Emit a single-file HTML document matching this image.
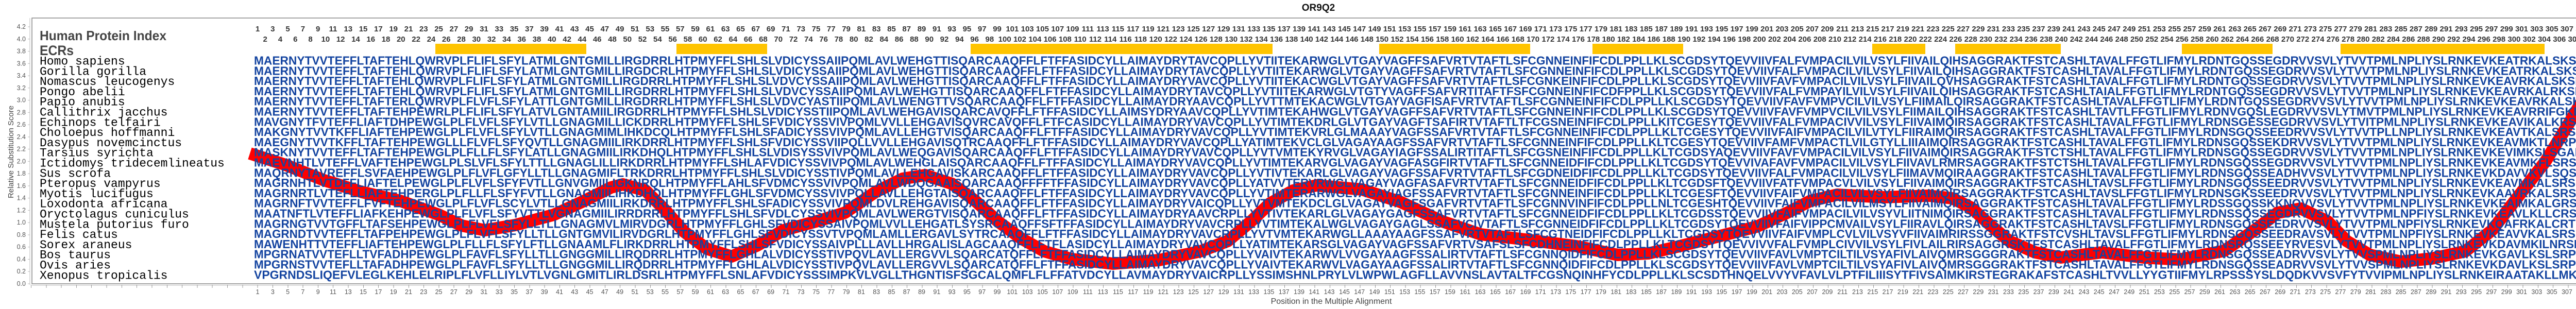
<!DOCTYPE html>
<html><head><meta charset="utf-8">
<style>
html,body{margin:0;padding:0;background:#fff;}
#wrap{position:relative;width:5118px;height:600px;overflow:hidden;background:#fff;}
svg{position:absolute;left:0;top:0;}
.row{position:absolute;display:flex;white-space:nowrap;}
.row i{font-style:normal;display:block;width:29.312px;flex:0 0 29.312px;text-align:center;}
.top{font-family:"Liberation Sans",Arial,sans-serif;font-weight:bold;font-size:15px;color:#333;line-height:18px;}
.bot{font-family:"Liberation Sans",Arial,sans-serif;font-size:12.5px;color:#555;line-height:16px;}
#ticks{position:absolute;left:60.344px;top:553px;width:5046px;height:6px;background:repeating-linear-gradient(to right,#999 0,#999 1px,transparent 1px,transparent 29.312px);}
</style></head><body><div id="wrap">
<svg width="5118" height="600" viewBox="0 0 5118 600" xmlns="http://www.w3.org/2000/svg">
<text x="2559" y="21" text-anchor="middle" font-family="Liberation Sans, Arial, sans-serif" font-weight="bold" font-size="19" fill="#111">OR9Q2</text>
<rect x="62" y="35" width="5044" height="516" fill="none" stroke="#888" stroke-width="1.5"/>
<line x1="58" y1="35" x2="58" y2="553" stroke="#bbb" stroke-width="1"/>
<line x1="62" y1="554" x2="5106" y2="554" stroke="#bbb" stroke-width="1"/>
<g font-family="Liberation Sans, Arial, sans-serif" font-size="12.5" fill="#555" text-anchor="end">
<text x="50" y="555">0.0</text><text x="50" y="531.2">0.2</text><text x="50" y="507.5">0.4</text><text x="50" y="483.7">0.6</text><text x="50" y="460">0.8</text><text x="50" y="436.2">1.0</text><text x="50" y="412.4">1.2</text><text x="50" y="388.7">1.4</text><text x="50" y="364.9">1.6</text><text x="50" y="341.2">1.8</text><text x="50" y="317.4">2.0</text><text x="50" y="293.6">2.2</text><text x="50" y="269.9">2.4</text><text x="50" y="246.1">2.6</text><text x="50" y="222.4">2.8</text><text x="50" y="198.6">3.0</text><text x="50" y="174.8">3.2</text><text x="50" y="151.1">3.4</text><text x="50" y="127.3">3.6</text><text x="50" y="103.6">3.8</text><text x="50" y="79.8">4.0</text><text x="50" y="56">4.2</text>
</g>
<g stroke="#bbb" stroke-width="1">
<line x1="54" y1="551" x2="58" y2="551"/><line x1="54" y1="527.2" x2="58" y2="527.2"/><line x1="54" y1="503.5" x2="58" y2="503.5"/><line x1="54" y1="479.7" x2="58" y2="479.7"/><line x1="54" y1="456" x2="58" y2="456"/><line x1="54" y1="432.2" x2="58" y2="432.2"/><line x1="54" y1="408.4" x2="58" y2="408.4"/><line x1="54" y1="384.7" x2="58" y2="384.7"/><line x1="54" y1="360.9" x2="58" y2="360.9"/><line x1="54" y1="337.2" x2="58" y2="337.2"/><line x1="54" y1="313.4" x2="58" y2="313.4"/><line x1="54" y1="289.6" x2="58" y2="289.6"/><line x1="54" y1="265.9" x2="58" y2="265.9"/><line x1="54" y1="242.1" x2="58" y2="242.1"/><line x1="54" y1="218.4" x2="58" y2="218.4"/><line x1="54" y1="194.6" x2="58" y2="194.6"/><line x1="54" y1="170.8" x2="58" y2="170.8"/><line x1="54" y1="147.1" x2="58" y2="147.1"/><line x1="54" y1="123.3" x2="58" y2="123.3"/><line x1="54" y1="99.6" x2="58" y2="99.6"/><line x1="54" y1="75.8" x2="58" y2="75.8"/><line x1="54" y1="52" x2="58" y2="52"/>
</g>
<text transform="translate(26,295) rotate(-90)" text-anchor="middle" font-family="Liberation Sans, Arial, sans-serif" font-size="15" fill="#444">Relative Substitution Score</text>
<text x="2584" y="590" text-anchor="middle" font-family="Liberation Sans, Arial, sans-serif" font-size="16" fill="#444">Position in the Multiple Alignment</text>
<g fill="#FFC400">
<rect x="845" y="85" width="293" height="20"/>
<rect x="1313" y="85" width="176" height="20"/>
<rect x="1884" y="85" width="586" height="20"/>
<rect x="2677" y="85" width="293" height="20"/>
<rect x="3091" y="85" width="176" height="20"/>
<rect x="3634" y="85" width="103" height="20"/>
<rect x="3795" y="85" width="205" height="20"/>
<rect x="4235" y="85" width="176" height="20"/>
<rect x="4543" y="85" width="396" height="20"/>
</g>
<polyline fill="none" stroke="#ff0000" stroke-width="24" stroke-linejoin="round" stroke-linecap="butt" points="485,298 554,320 629,350 703,373 777,390 852,417 896,438 941,447 1000,437 1075,417 1134,390 1186,364 1209,358 1253,370 1290,407 1328,450 1372,483 1420,498 1469,477 1521,447 1595,427 1640,413 1699,373 1752,347 1796,340 1848,357 1893,390 1937,430 1982,463 2027,488 2080,503 2160,512 2250,505 2330,488 2383,468 2428,430 2465,395 2510,370 2555,360 2644,368 2718,392 2800,430 2874,455 2960,465 3060,478 3140,495 3200,492 3260,478 3320,463 3410,440 3469,413 3514,390 3566,378 3655,383 3744,380 3789,385 3826,403 3863,437 3900,468 3950,490 4000,500 4080,490 4160,500 4230,504 4317,487 4376,447 4421,413 4466,405 4518,430 4555,468 4600,495 4660,508 4720,502 4785,488 4837,447 4889,380 4941,313 4986,240 5030,165 5050,122 5105,98"/>
<text x="77" y="78" font-family="Liberation Sans, Arial, sans-serif" font-weight="bold" font-size="26" fill="#444" textLength="246" lengthAdjust="spacingAndGlyphs">Human Protein Index</text>
<text x="77" y="107" font-family="Liberation Sans, Arial, sans-serif" font-weight="bold" font-size="27" fill="#444" textLength="66" lengthAdjust="spacingAndGlyphs">ECRs</text>
<g font-family="Liberation Mono, DejaVu Sans Mono, monospace" font-size="23" fill="#000">
<text x="77" y="125.5">Homo sapiens</text>
<text x="77" y="145.3">Gorilla gorilla</text>
<text x="77" y="165.1">Nomascus leucogenys</text>
<text x="77" y="184.9">Pongo abelii</text>
<text x="77" y="204.7">Papio anubis</text>
<text x="77" y="224.5">Callithrix jacchus</text>
<text x="77" y="244.3">Echinops telfairi</text>
<text x="77" y="264.1">Choloepus hoffmanni</text>
<text x="77" y="283.9">Dasypus novemcinctus</text>
<text x="77" y="303.7">Tarsius syrichta</text>
<text x="77" y="323.5">Ictidomys tridecemlineatus</text>
<text x="77" y="343.3">Sus scrofa</text>
<text x="77" y="363.1">Pteropus vampyrus</text>
<text x="77" y="382.9">Myotis lucifugus</text>
<text x="77" y="402.7">Loxodonta africana</text>
<text x="77" y="422.5">Oryctolagus cuniculus</text>
<text x="77" y="442.3">Mustela putorius furo</text>
<text x="77" y="462.1">Felis catus</text>
<text x="77" y="481.9">Sorex araneus</text>
<text x="77" y="501.7">Bos taurus</text>
<text x="77" y="521.5">Ovis aries</text>
<text x="77" y="541.3">Xenopus tropicalis</text>
</g>
<g font-family="Liberation Sans, Arial, sans-serif" font-weight="bold" font-size="23" fill="#1444a0">
<text x="493" y="125.5" textLength="4602" lengthAdjust="spacingAndGlyphs">MAERNYTVVTEFFLTAFTEHLQWRVPLFLIFLSFYLATMLGNTGMILLIRGDRRLHTPMYFFLSHLSLVDICYSSAIIPQMLAVLWEHGTTISQARCAAQFFLFTFFASIDCYLLAIMAYDRYTAVCQPLLYVTIITEKARWGLVTGAYVAGFFSAFVRTVTAFTLSFCGNNEINFIFCDLPPLLKLSCGDSYTQEVVIIVFALFVMPACILVILVSYLFIIVAILQIHSAGGRAKTFSTCASHLTAVALFFGTLIFMYLRDNTGQSSEGDRVVSVLYTVVTPMLNPLIYSLRNKEVKEATRKALSKSKPARRP</text>
<text x="493" y="145.3" textLength="4602" lengthAdjust="spacingAndGlyphs">MAERNYTVVTEFFLTAFTEHLQWRVPLFLIFLSFYLATMLGNTGMILLIRGDCRLHTPMYFFLSHLSLVDICYSSAIIPQMLAVLWEHGTTISQARCAAQFFLFTFFASIDCYLLAIMAYDRYTAVCQPLLYVTIITEKARWGLVTGAYVAGFFSAFVRTVTAFTLSFCGNNEINFIFCDLPPLLKLSCGDSYTQEVVIIVFALFVMPACILVILVSYLFIIVAILQIHSAGGRAKTFSTCASHLTAVALFFGTLIFMYLRDNTGQSSEGDRVVSVLYTVVTPMLNPLIYSLRNKEVKEATRKALSKSKAARIP</text>
<text x="493" y="165.1" textLength="4602" lengthAdjust="spacingAndGlyphs">MAERNYTVVTEFFLTAFTEHLQWRVPLFLIFLSFYLATMLGNTGMILLIRGDRRLHTPMYFFLSHLSLVDVCYSSAIIPQMLAVLWEHGTTISQARCAAQFFLFTFFASIDCYLLAIMAYDRYVAVCQPLLYVTIITEKACWGLVTGAYVAGFFSAFVRTVTAFTLSFCGNKEINFIFCDLPPLLKLSCGDSYTQEVVIIVFAVFVMPACILVILVSYLFIIVAILQVHSAGGRAKTFSTCASHLTAVALFFGTLIFMYLRDNTGQSSEGDRVVSVLYTVVTPMLNPLIYSLRNKEVKEAVRKALSKSKAARRP</text>
<text x="493" y="184.9" textLength="4602" lengthAdjust="spacingAndGlyphs">MAERNYTVVTEFFLTAFTEHLQWRVPLFLIFLSFYLATMLGNTGMILLIRGDRRLHTPMYFFLSHLSLVDVCYSSAIIPQMLAVLWEHGTTISQARCAAQFFLFTFFASIDCYLLAIMAYDRYTAVCQPLLYVTIITEKARWGLVTGTYVAGFFSAFVRTITAFTFSFCGNNEINFIFCDFPPLLKLSCGDSYTQEVVIIVFALFVMPAYILVILVSYLFIIVAILQIHSAGGRAKTFSTCASHLTAIALFFGTLIFMYLRDNTGQSSEGDRVVSVLYTVVTPMLNPLIYSLRNKEVKEAVRKALRKSKAARRP</text>
<text x="493" y="204.7" textLength="4602" lengthAdjust="spacingAndGlyphs">MAERNYTVVTEFFLTAFTERLQWRVPLFLVFLSFYLATTLGNTGMILLIRGDRRLHTPMYFFLSHLSLVDVCYASTIIPQMLAVLWENGTTVSQARCAAQFFLFTFFASIDCYLLAIMAYDRYAAVCQPLLYVTTMTEKACWGLVTGAYVAGFISAFVRTVTAFTLSFCGNNEINFIFCDLPPLLKLSCGDSYTQEVVIIVFAVFVMPVCILVILVSYLFIIMAILQIRSAGGRAKTFSTCASHLTAVALFFGTLIFMYLRDNTGQSSEGDRVVSVLYTVVTPMLNPLIYSLRNKEVKEAVRKALSKSKAS---</text>
<text x="493" y="224.5" textLength="4602" lengthAdjust="spacingAndGlyphs">MAERNYTVVTEFFLTAFTEHPEWRLPLFLIFLSFYLATVLGNTAMIILIRGDRRLHTPMYFFLSHLSLVDICYSSTIIPQMLAVLWEHGAVISQARCAVQFFLFTFFASIDCYLLAIMSYDRYAAVCQPLLYVTIMTEKAHWGLVTGAYVAGFFSAFVRTVTAFTLSFCGNNEINFIFCDLPPLLKLSCGDSYTQEVVIIVFAVFVMPVCILVILVSYLFIIMAILQIHSAGGRAKTFSTCASHLTAVTLFFGTLIFMYLRDNVGQSLEGDRVVSVLYTMVTPMLNPLIYSLRNKEVKEAVRRIFGKLQSSLQI</text>
<text x="493" y="244.3" textLength="4602" lengthAdjust="spacingAndGlyphs">MAVGNYTFVTEFFLIAFTDHPEWGLPLFLVFLSFYLVTLLGNAGMILLICKDRRLHTPMYFFLSHLSFVDICYSSVIVPQMLVVLLEHGAVISQVRCAVQFFLFTFCASIDCYLLAIMAYDRYVAVCQPLLYVTIMTEKDRLGLVTGAYVAGFTSAFIRTVTAFTLTFCGSNEINFIFCDLPPLLKITCGESYTQEVVIIVFALFVMPACIVVILVSYLFIIVAIMQIRSAGGRAKTFSTCASHLTAVALFFGTLIFMYLRDNSGESSEGDRVVSVLYTVITPMLNPLIYSLRNKEVKEAVIKALKRSNVARRP</text>
<text x="493" y="264.1" textLength="4602" lengthAdjust="spacingAndGlyphs">MAKGNYTVVTKFFLIAFTEHPEWGLPLFLVFLSFYLVTLLGNAGMIMLIHKDCQLHTPMYFFLSHLSFADICYSSVIVPQMLAVLLEHGTVISQARCAAQFFLFTFFASIDCYLLAIMAYDRYVAVCQPLLYVTIMTEKVRLGLMAAAYVAGFSSAFVRTVTAFTLSFCGNNEINFIFCDLPPLLKLTCGESYTQEVVIIVFAIFVMPACILVILVTYLFIIRAIMQIRSAGGRAKTFSTCASHLTAVALFFGTLIFMYLRDNSGQSSEEDRVVSVLYTVVTPLLNPLIYSLRNKEVKEAVTKALSRSKASRRP</text>
<text x="493" y="283.9" textLength="4602" lengthAdjust="spacingAndGlyphs">MAEGNYTVVTKFFLTAFTEHPEWGLLLFLVFLSFYQVTLLGNAGMIILIRKDRRLHTPMYFFLSHLSFVDICYSSVIIPQLLVVLLEHGAVISQTRCAAQFFLFTFFASIDCYLLAIMAYDRYVAVCQPLLYATIMTEKVCLGLVAGAYAAGFSSAFVRTVTAFTLSFCGNNEINFIFCDLPPLLKLTCGESYTQEVVIIVFAMFVMPACTLVILGTYLLIIIAIMQIRSAGGRAKTFSTCASHLTAVALFFGTLIFMYLRDNSGQSSEKDRVVSVLYTVVTPMLNPLIYSLRNKEVKEAVMKTLNRPKVSRKS</text>
<text x="493" y="303.7" textLength="4602" lengthAdjust="spacingAndGlyphs">MASKNYTVVTEFFLTAFTEHPEWGLPLFLLFLSFYLATLLGNAGMIILIRKDHQLHTPMYFFLSHLSLVDISYSSVIVPQMLAVLWEQGAVISQARCAAQFFLFTFFASIDCYLLAIMAYDRYVAVCQPLLYVTVMTEKYRVGLVAGAYIAGFSSALIRTITAFTLSFCGSNEINFIFCDLPPLLKLTCGDSYAQEVVIIVFAVFVMPACILVILVSYLFIIVAIMQIRSAGGRAKTFSTCTSHLTAVALFFGTLIFMYLRDNSGQSSEGDRVVSVLYTVVTPMLNPLIYSLRNKEVKEVIMKSLSGAKASGRP</text>
<text x="493" y="323.5" textLength="4602" lengthAdjust="spacingAndGlyphs">MAEVNHTLVTEFFLVAFTEHPEWGLPLSLVFLSFYLTTLLGNAGLILLIRKDRRLHTPMYFFLSHLAFVDICYSSVIVPQMLAVLWEHGLAISQARCAAQFFLFTFFASIDCYLLAIMAYDRYVAVCQPLLYVTIMTEKARVGLVAGAYVAGFASGFIRTVTAFTLSFCGNNEIDFIFCDLPPLLKLTCGDSYTQEVVIVAFAVFVMPACILVILVSYLFIIVAVLRMRSAGGRAKTFSTCTSHLTAVALFFGTLIFMYLRDNSGQSSEGDRVVSVLYTVVTPMLNPLIYSLRNKEVKEAVMKFLSRSKVSRRP</text>
<text x="493" y="343.3" textLength="4602" lengthAdjust="spacingAndGlyphs">MAQRNYTAVREFFLSVFAEHPEWGLPLFLVFLGFYLLTLLGNAGMIFLTRKDRRLHTPMYFFLSHLSLVDICYSSTIVPQMLAVLLEHGAVISKARCAAQFFLFTFFASIDCYLLAIMAYDRYVAVCQPLLYVTIVTEKARLGLVAGAYVAGFSSAFVRTVTAFTLSFCGDNEIDFIFCDLPPLLKLTCGDSYTQEVVIIVFALFVMPACILVILVSYLFIIMAVMQIRAAGGRAKTFSTCASHLTAVALFFGTLIFMYLRDNSGQSSEADHVVSVLYTVVTPMLNPLIYSLRNKEVKDAVVKVLSQSKPSGRT</text>
<text x="493" y="363.1" textLength="4602" lengthAdjust="spacingAndGlyphs">MAGRNHTLVTDFFLIAFTELPEWGLPLFLVFLSFYFVTLLGNVGMIILIGKNRQLHTPMYFFLAHLSFVDMCYSSVIVPQMLAVLWDQGAAISQARCAAQFFFFTFFASIDCYLLAIMAYDRYVAVCQPLLYATVVTERVRWGLVAGAYVAGFASAFVRTVTAFTLSFCGNNEIDFIFCDLPPLLKLTCGDSFTQEVVIIVFATFVMPACVLVILVSYLFIIVAIMQIRSAGGRAKTFSTCASHLTAVSLFFGTLIFMYLRDNSGQSSEEDRVVSVLYTVVTPMLNPLIYSLRNKEVKEAVMKALSRSRASGRP</text>
<text x="493" y="382.9" textLength="4602" lengthAdjust="spacingAndGlyphs">MAGRNRTLVTEFLLIAFTEHPERGLPLFLLFLSFYFVTLLGNAGMIILIHKDHQLHTPMYFFLGHLSFVDMCYSSVIVPQLLAVLLEHGTAISQARCAAQFFLFTFFASIDCYLLAIMAYDRYVAVCQPLLYVTIMTERARWGLVAGAYIAGFSSAFVRTVTAFTLSFCGNNEINFIFCDLPPLLKLTCGESFTQEVVIIVFAIFVMPACILVILVSYLFIIVAIMQIRSAGGRAKTFSTCASHLTAVSLFFGTLIFMYLRDNSGKSSEEDRVVSVLYTVVTPMLNPLIYSLRNKEVKAAVRKALSRSKASALC</text>
<text x="493" y="402.7" textLength="4602" lengthAdjust="spacingAndGlyphs">MAGRNFTVVTEFFLFVFTEHPEWGLPLFLVFLSCYLVTLLGNAGMIILIRKDRRLHTPMYFFLSHLSFADICYSSVIVPQMLDVLREHGAVISQARCAAQFFLFTFFASIDCYLLAIMAYDRYVAICQPLLYVTVMTEKDCLGLVAGAYVAGFSGAFVRTVTAFTLSFCGNNVINFIFCDLPPLLNLTCGESHTQEVVIIVFAIFVMPACILVILMSYLFIIVAIMQIRSAGGRAKTFSTCASHLTAVALFFGTLIFMYLRDSSGQSSKKNQVVSVLYTVVTPMLNPLIYSLRNKEVKEAIMKALGRSKYFGEP</text>
<text x="493" y="422.5" textLength="4602" lengthAdjust="spacingAndGlyphs">MAATNFTLVTEFFLIAFKEHPEWGLPLFLVFLSFYVTTLVGNAGMIILIRRDRRLHTPMYFFLSHLSFVDLCYSSVIVPQMLAVLWERGTVISQARCAAQFFLFTFFASIDCYLLAIMAYDRYAAVCRPLLYVTIVTEKARLGLVAGAYGAGFSSAFVRTVTAFTLSFCGNNEIDFIFCDLPPLLKLTCGDSSTQEVVIIVFAIFVMPACILVILVSYVLIITNIMQIRSAGGRAKTFSTCASHLTAVALFFGTLIFMYLRDNSSQSSEGDRVVSVLYTVVTPMLNPFIYSLRNKEVKEAVLKLLCRSKPSGTP</text>
<text x="493" y="442.3" textLength="4602" lengthAdjust="spacingAndGlyphs">MAGRNGTVVTGFFLTAFSEHPEWGLPLFLVFLSFYLLTLLGNAGMVLMIRVDGRLHTPMYFFLGHLSFVDICYSSAIVPQMLVVLLEHGATLSYSRCAAQFFSFTFFASIDCYLLAIMAYDRYVAVCRPLLYVTIMTEKALWGLVAGAYGAGLSSAFVCIVTAFTLSFCGNNEIDFIFCDLPPLLKLTCGDSYTQEVVIIVFAIFVIPPCMVAILVSYLFIIRAVLQIRSAGGRAKTFSTCASHLTAVSLFFGTLIFMYLRDNSGQSSEEDRVVSVLYTVVTPMLNPFIYSLRNKEVKQAFRKALCRTKASGKP</text>
<text x="493" y="462.1" textLength="4602" lengthAdjust="spacingAndGlyphs">MAGRNDTVVTEFFLTAFPEHPEWGLPLFLVFLSFYLLTLLGNTGMVILIRVDGRLHTPMYFFLGHLSFVDICYSSVTVPQMLAMLLERGAVLSYTRCAAQFFLFTFFASIDCYLLAIMAYDRYVAVCRPLLYVTVMTEKARWGLLAAAYAAGFSSAFVRTVTAFTLSFCGTNEIDFIFCDLPPLLKLTCGDSYTQEVVIIVFAIFVMPLCVLVILVSYVFIIVAIMRIRSSGGRAKTFSTCVSHLTAVSLFFGTLIFMYLRDNSGQSSEEDRAVSVLYTVVTPMLNPFIYSLRNKEVKEAVVKALSRSKSRGRP</text>
<text x="493" y="481.9" textLength="4602" lengthAdjust="spacingAndGlyphs">MAWENHTTVTEFFLIAFTEHPEWGLPLFLLFLSFYLFTLLGNAAMLFLIRKDRRLHTPMYFFLSHLSFVDICYSSAIVPLLLAVLLHRGALISLAGCAAQFFLFTFLASIDCYLLAIMAYDRYVAVCQPLLYATIMTEKARSGLVAGAYVAGFSSAFVRTVSAFSLSFCDHNEINFIFCDLPPLLKLTCGDSYTQEVVIVVFALFVMPLCIVVILVSYLFIVLAILRIRSAGGRSKTFSTCASHLTAVALFFGTLIFMYLRDNSRQSSEEYRVESVLYTVVTPMLNPLIYSLRNKEVKDAVMKILNRSKTMRMS</text>
<text x="493" y="501.7" textLength="4602" lengthAdjust="spacingAndGlyphs">MPGRNATVVTEFLLTVFADHPEWGLPLFAVFLSFYLLTLLGNGGMILLIRQDRRLHTPMYFFLGHLALVDICYSSTIVPQVLAVLLERGVVLSQARCATQFFLFTFFASIDCYLLAIMAYDRYVAVCQPLLYVAIVTEKARWVLVVGAYAAGFSSALIRTVTAFTLSFCGNNQIDFIFCDLPPLLKLSCGDSYTQEVVIIVFAVLVMPTCILTILVSYAFIVLAIVQMRSGGGRAKTFSTCASHLTAVALFFGTLIFMYLRDNSGQSSEADRVVSVLYTVVSPMLNPLIYSLRNKEVKGAVLKSLSRPKVSGRS</text>
<text x="493" y="521.5" textLength="4602" lengthAdjust="spacingAndGlyphs">MPGRNSTVVTEFLLTAFADHPEWGLPLFAVFLSFYLLTLLGNGGMILLIRQDRRLHTPMYFFLGHLALVDICYSSTIVPQVLAVLLERGVVLSQARCATQFFLFTFFASIDCYLLAIMAYDRYVAVCQPLLYVAIVTEKARWVLVAGAYAAGFSSALIRTVTAFTLSFCGNNQIDFIFCDLPPLLKLSCGDSYTQEVVIIVFAVLVMPTCILTILVSYAFIVLAIVQMRSGGGRAKTFSTCASHLTAVALFFGTLIFMYLRDNSGQSSEADRVVSVLYTVVSPMLNPLIYSLRNKEVKDAVLKSLSRPKVSGRX</text>
<text x="493" y="541.3" textLength="4602" lengthAdjust="spacingAndGlyphs">VPGRNDSLIQEFVLEGLKEHLELRIPLFLVFLLIYLVTLVGNLGMITLIRLDSRLHTPMYFFLSNLAFVDICYSSSIMPKVLVGLLTHGNTISFSGCALQMFLFLFFATVDCYLLAVMAYDRYVAICRPLLYSSIMSHNLPRYLVLWPWLAGFLLAVVNSLAVTALTFCGSNQINHFYCDLPPLLKLSCSDTHNQELVVYVFAVLVLPTFILIIISYTFIVSAIMKIRSTEGRAKAFSTCASHLTVVLLYYGTIIFMYLRPSSSYSLDQDKVVSVFYTVVIPMLNPLIYSLRNKEIRAATAKLLMKATYRK--</text>
</g>
</svg>
<div id="ticks"></div>
<div class="row top" style="left:485.344px;top:48px;"><i>1</i><i>3</i><i>5</i><i>7</i><i>9</i><i>11</i><i>13</i><i>15</i><i>17</i><i>19</i><i>21</i><i>23</i><i>25</i><i>27</i><i>29</i><i>31</i><i>33</i><i>35</i><i>37</i><i>39</i><i>41</i><i>43</i><i>45</i><i>47</i><i>49</i><i>51</i><i>53</i><i>55</i><i>57</i><i>59</i><i>61</i><i>63</i><i>65</i><i>67</i><i>69</i><i>71</i><i>73</i><i>75</i><i>77</i><i>79</i><i>81</i><i>83</i><i>85</i><i>87</i><i>89</i><i>91</i><i>93</i><i>95</i><i>97</i><i>99</i><i>101</i><i>103</i><i>105</i><i>107</i><i>109</i><i>111</i><i>113</i><i>115</i><i>117</i><i>119</i><i>121</i><i>123</i><i>125</i><i>127</i><i>129</i><i>131</i><i>133</i><i>135</i><i>137</i><i>139</i><i>141</i><i>143</i><i>145</i><i>147</i><i>149</i><i>151</i><i>153</i><i>155</i><i>157</i><i>159</i><i>161</i><i>163</i><i>165</i><i>167</i><i>169</i><i>171</i><i>173</i><i>175</i><i>177</i><i>179</i><i>181</i><i>183</i><i>185</i><i>187</i><i>189</i><i>191</i><i>193</i><i>195</i><i>197</i><i>199</i><i>201</i><i>203</i><i>205</i><i>207</i><i>209</i><i>211</i><i>213</i><i>215</i><i>217</i><i>219</i><i>221</i><i>223</i><i>225</i><i>227</i><i>229</i><i>231</i><i>233</i><i>235</i><i>237</i><i>239</i><i>241</i><i>243</i><i>245</i><i>247</i><i>249</i><i>251</i><i>253</i><i>255</i><i>257</i><i>259</i><i>261</i><i>263</i><i>265</i><i>267</i><i>269</i><i>271</i><i>273</i><i>275</i><i>277</i><i>279</i><i>281</i><i>283</i><i>285</i><i>287</i><i>289</i><i>291</i><i>293</i><i>295</i><i>297</i><i>299</i><i>301</i><i>303</i><i>305</i><i>307</i><i>309</i><i>311</i><i>313</i></div>
<div class="row top" style="left:500px;top:68px;"><i>2</i><i>4</i><i>6</i><i>8</i><i>10</i><i>12</i><i>14</i><i>16</i><i>18</i><i>20</i><i>22</i><i>24</i><i>26</i><i>28</i><i>30</i><i>32</i><i>34</i><i>36</i><i>38</i><i>40</i><i>42</i><i>44</i><i>46</i><i>48</i><i>50</i><i>52</i><i>54</i><i>56</i><i>58</i><i>60</i><i>62</i><i>64</i><i>66</i><i>68</i><i>70</i><i>72</i><i>74</i><i>76</i><i>78</i><i>80</i><i>82</i><i>84</i><i>86</i><i>88</i><i>90</i><i>92</i><i>94</i><i>96</i><i>98</i><i>100</i><i>102</i><i>104</i><i>106</i><i>108</i><i>110</i><i>112</i><i>114</i><i>116</i><i>118</i><i>120</i><i>122</i><i>124</i><i>126</i><i>128</i><i>130</i><i>132</i><i>134</i><i>136</i><i>138</i><i>140</i><i>142</i><i>144</i><i>146</i><i>148</i><i>150</i><i>152</i><i>154</i><i>156</i><i>158</i><i>160</i><i>162</i><i>164</i><i>166</i><i>168</i><i>170</i><i>172</i><i>174</i><i>176</i><i>178</i><i>180</i><i>182</i><i>184</i><i>186</i><i>188</i><i>190</i><i>192</i><i>194</i><i>196</i><i>198</i><i>200</i><i>202</i><i>204</i><i>206</i><i>208</i><i>210</i><i>212</i><i>214</i><i>216</i><i>218</i><i>220</i><i>222</i><i>224</i><i>226</i><i>228</i><i>230</i><i>232</i><i>234</i><i>236</i><i>238</i><i>240</i><i>242</i><i>244</i><i>246</i><i>248</i><i>250</i><i>252</i><i>254</i><i>256</i><i>258</i><i>260</i><i>262</i><i>264</i><i>266</i><i>268</i><i>270</i><i>272</i><i>274</i><i>276</i><i>278</i><i>280</i><i>282</i><i>284</i><i>286</i><i>288</i><i>290</i><i>292</i><i>294</i><i>296</i><i>298</i><i>300</i><i>302</i><i>304</i><i>306</i><i>308</i><i>310</i><i>312</i><i>314</i></div>
<div class="row bot" style="left:485.344px;top:559px;"><i>1</i><i>3</i><i>5</i><i>7</i><i>9</i><i>11</i><i>13</i><i>15</i><i>17</i><i>19</i><i>21</i><i>23</i><i>25</i><i>27</i><i>29</i><i>31</i><i>33</i><i>35</i><i>37</i><i>39</i><i>41</i><i>43</i><i>45</i><i>47</i><i>49</i><i>51</i><i>53</i><i>55</i><i>57</i><i>59</i><i>61</i><i>63</i><i>65</i><i>67</i><i>69</i><i>71</i><i>73</i><i>75</i><i>77</i><i>79</i><i>81</i><i>83</i><i>85</i><i>87</i><i>89</i><i>91</i><i>93</i><i>95</i><i>97</i><i>99</i><i>101</i><i>103</i><i>105</i><i>107</i><i>109</i><i>111</i><i>113</i><i>115</i><i>117</i><i>119</i><i>121</i><i>123</i><i>125</i><i>127</i><i>129</i><i>131</i><i>133</i><i>135</i><i>137</i><i>139</i><i>141</i><i>143</i><i>145</i><i>147</i><i>149</i><i>151</i><i>153</i><i>155</i><i>157</i><i>159</i><i>161</i><i>163</i><i>165</i><i>167</i><i>169</i><i>171</i><i>173</i><i>175</i><i>177</i><i>179</i><i>181</i><i>183</i><i>185</i><i>187</i><i>189</i><i>191</i><i>193</i><i>195</i><i>197</i><i>199</i><i>201</i><i>203</i><i>205</i><i>207</i><i>209</i><i>211</i><i>213</i><i>215</i><i>217</i><i>219</i><i>221</i><i>223</i><i>225</i><i>227</i><i>229</i><i>231</i><i>233</i><i>235</i><i>237</i><i>239</i><i>241</i><i>243</i><i>245</i><i>247</i><i>249</i><i>251</i><i>253</i><i>255</i><i>257</i><i>259</i><i>261</i><i>263</i><i>265</i><i>267</i><i>269</i><i>271</i><i>273</i><i>275</i><i>277</i><i>279</i><i>281</i><i>283</i><i>285</i><i>287</i><i>289</i><i>291</i><i>293</i><i>295</i><i>297</i><i>299</i><i>301</i><i>303</i><i>305</i><i>307</i><i>309</i><i>311</i><i>313</i><i>315</i></div>
</div></body></html>
